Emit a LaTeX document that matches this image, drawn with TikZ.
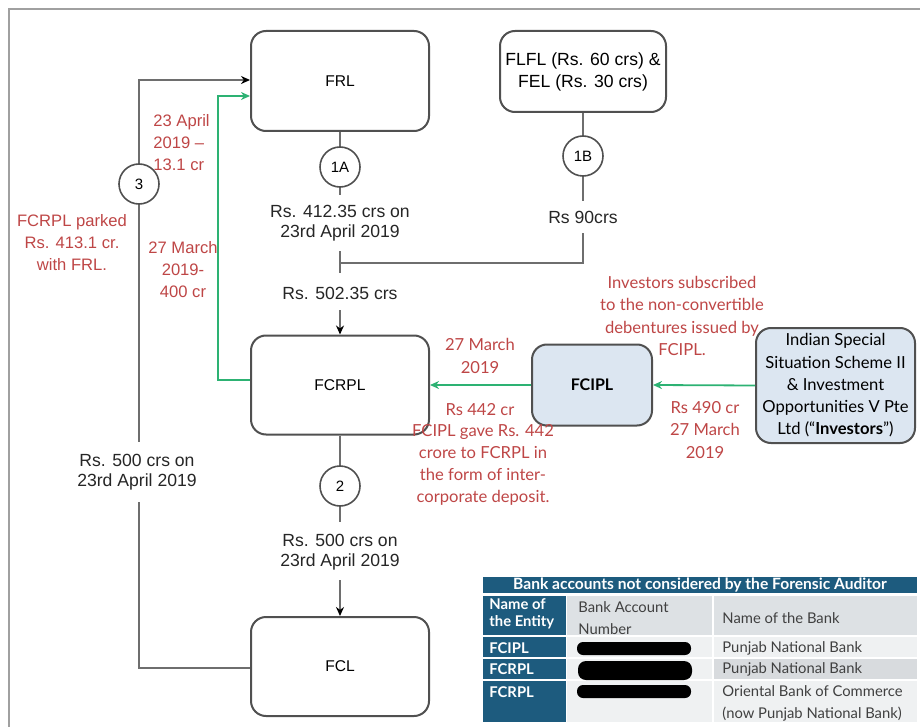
\documentclass[tikz,border=0pt]{standalone}
\usepackage{fontspec}
\setmainfont{Liberation Sans}
\newfontfamily\lato{Lato}
\usetikzlibrary{arrows.meta}
\definecolor{lineg}{HTML}{6E6E6E}
\definecolor{boxg}{HTML}{505050}
\definecolor{grn}{RGB}{45,178,115}
\definecolor{redt}{RGB}{190,70,70}
\definecolor{tblue}{HTML}{1D5B7E}
\definecolor{lblue}{HTML}{DCE6F1}
\definecolor{rowa}{HTML}{DDE1E4}
\definecolor{rowb}{HTML}{EFF1F2}
\definecolor{rowc}{HTML}{D8DBDE}
\definecolor{framec}{HTML}{A0A0A0}
\begin{document}
\begin{tikzpicture}[x=0.5pt,y=-0.5pt,
  ent/.style={draw=boxg, line width=1pt, rounded corners=7.5pt, fill=white, inner sep=0pt,
    font=\fontsize{7.8}{9}\selectfont, align=center},
  circ/.style={circle, draw=boxg, line width=0.8pt, fill=white, minimum size=20pt, inner sep=0pt,
    font=\fontsize{7.5}{9}\selectfont},
  lbl/.style={fill=white, align=center, font=\fontsize{8.8}{10.2}\selectfont, text=black!85, inner xsep=1pt, inner ysep=2pt},
  conn/.style={draw=lineg, line width=0.8pt},
  arr/.style={conn, -{Stealth[length=4.5pt,width=4pt,color=black]}},
  garr/.style={draw=grn, line width=0.9pt, -{Stealth[length=4.5pt,width=4pt]}},
  redl/.style={text=redt, align=center, font=\fontsize{8.3}{11}\selectfont, inner sep=0pt},
  redr/.style={text=redt, align=center, font=\lato\fontsize{8.3}{11.1}\selectfont, inner sep=0pt},
  tcell/.style={anchor=west, inner sep=0pt, font=\lato\fontsize{7.4}{11}\selectfont},
]
\useasboundingbox (0,0) rectangle (920,727);
\draw[framec, line width=1.3pt] (9,727) -- (9,9) -- (920,9);

% entity boxes
\node[ent, minimum width=89pt, minimum height=50pt] (FRL) at (340,81) {FRL};
\node[ent, minimum width=83pt, minimum height=40.5pt, font=\fontsize{8.8}{11}\selectfont] (FLFL) at (583,71.5) {FLFL (Rs. 60 crs) \&\\FEL (Rs. 30 crs)};
\node[ent, minimum width=89pt, minimum height=49.5pt] (FCRPL) at (340,385) {FCRPL};
\node[ent, minimum width=89pt, minimum height=49.5pt] (FCL) at (340,666.5) {FCL};
\node[ent, fill=lblue, minimum width=60pt, minimum height=40.5pt, font=\lato\bfseries\fontsize{8}{9}\selectfont] (FCIPL) at (592,385) {FCIPL};
\node[ent, fill=lblue, minimum width=79.5pt, minimum height=57.5pt, font=\lato\fontsize{8.3}{11.1}\selectfont] (INV) at (835.5,385.5) {Indian Special\\Situation Scheme II\\\& Investment\\Opportunities V Pte\\Ltd (“\textbf{Investors}”)};

% junction coordinates
\coordinate (j1) at (340,263);
\coordinate (j1b) at (340,273);
\coordinate (a1) at (340,310);
\coordinate (c2e) at (340,522);
\coordinate (a2) at (340,580);
\coordinate (c3pos) at (139,184);

% flows 1A / 1B
\draw[conn] (FRL.south) -- (j1b);
\draw[conn] (FLFL.south) |- (j1);
\node[circ] (c1A) at (340,167) {1A};
\node[circ] (c1B) at (583,156) {1B};
\node[lbl, inner ysep=5pt] (t412) at (340,223) {Rs. 412.35 crs on\\23rd April 2019};
\node[lbl, inner ysep=5pt] (t90) at (583,217) {Rs 90crs};
\node[lbl] (t502) at (340,293) {Rs. 502.35 crs};
\draw[arr] (a1) -- (FCRPL.north);

% flow 2
\draw[conn] (FCRPL.south) -- (c2e);
\node[circ] (c2) at (340,486) {2};
\node[lbl] (t500a) at (340,552) {Rs. 500 crs on\\23rd April 2019};
\draw[arr] (a2) -- (FCL.north);

% flow 3 loop
\draw[arr] ([yshift=-0.75pt]FCL.west) -| (c3pos) |- ([yshift=0.5pt]FRL.west);
\node[circ] (c3) at (c3pos) {3};
\node[lbl, inner ysep=6pt] (t500b) at (137,472) {Rs. 500 crs on\\23rd April 2019};

% green flows
\draw[garr] ([yshift=2.5pt]FCRPL.west) -- ++(-32,0) |- ([yshift=-7.5pt]FRL.west);
\draw[garr] (INV.west) -- (FCIPL.east);
\draw[garr] (FCIPL.west) -- (FCRPL.east);

% red annotations, left
\node[redl, align=left, anchor=west] (r23) at (153,143) {23 April\\2019 –\\13.1 cr};
\node[redl] (rpark) at (72,243) {FCRPL parked\\Rs. 413.1 cr.\\with FRL.};
\node[redl] (r27) at (183,270) {27 March\\2019-\\400 cr};

% red annotations, right
\node[redr] (rinv) at (682,316) {Investors subscribed\\to the non-convertible\\debentures issued by\\FCIPL.};
\node[redr] (r27b) at (480,356) {27 March\\2019};
\node[redr] (r442) at (480,410) {Rs 442 cr};
\node[redr] (rgave) at (483,465) {FCIPL gave Rs. 442\\crore to FCRPL in\\the form of inter-\\corporate deposit.};
\node[redr] (r490) at (705,430) {Rs 490 cr\\27 March\\2019};

% table
\fill[tblue] (483,577) rectangle (917,593);
\node[font=\lato\bfseries\fontsize{7.8}{8}\selectfont, text=white, inner sep=0pt] (th) at (700,585) {Bank accounts not considered by the Forensic Auditor};
\fill[tblue] (483,596) rectangle (566,635);
\fill[tblue] (483,637) rectangle (566,657);
\fill[tblue] (483,659) rectangle (566,679);
\fill[tblue] (483,681) rectangle (566,722);
\fill[rowa] (567,596) rectangle (712,635);
\fill[rowa] (714,596) rectangle (917,635);
\fill[rowb] (567,637) rectangle (712,657);
\fill[rowb] (714,637) rectangle (917,657);
\fill[rowb] (567,659) rectangle (712,679);
\fill[rowc] (714,659) rectangle (917,679);
\fill[rowb] (567,681) rectangle (712,722);
\fill[rowb] (714,681) rectangle (917,722);
\fill[black, rounded corners=3pt] (577,642) rectangle (691,655);
\fill[black, rounded corners=4pt] (578,661) rectangle (692,680);
\fill[black, rounded corners=3pt] (577,685) rectangle (691,698);

\node[tcell, text=white, font=\lato\bfseries\fontsize{7.4}{8.5}\selectfont, align=left] (h1) at (489,614) {Name of\\the Entity};
\node[tcell, text=black!75, align=left] (h2) at (578,618) {Bank Account\\Number};
\node[tcell, text=black!75] (h3) at (722,618) {Name of the Bank};
\node[tcell, text=white, font=\lato\bfseries\fontsize{7.4}{8}\selectfont] (e1) at (489,648) {FCIPL};
\node[tcell, text=white, font=\lato\bfseries\fontsize{7.4}{8}\selectfont] (e2) at (489,669) {FCRPL};
\node[tcell, text=white, font=\lato\bfseries\fontsize{7.4}{8}\selectfont] (e3) at (489,692) {FCRPL};
\node[tcell, text=black!75] (b1) at (722,648) {Punjab National Bank};
\node[tcell, text=black!75] (b2) at (722,669) {Punjab National Bank};
\node[tcell, text=black!75, align=left] (b3) at (722,703) {Oriental Bank of Commerce\\(now Punjab National Bank)};
\end{tikzpicture}
\end{document}
